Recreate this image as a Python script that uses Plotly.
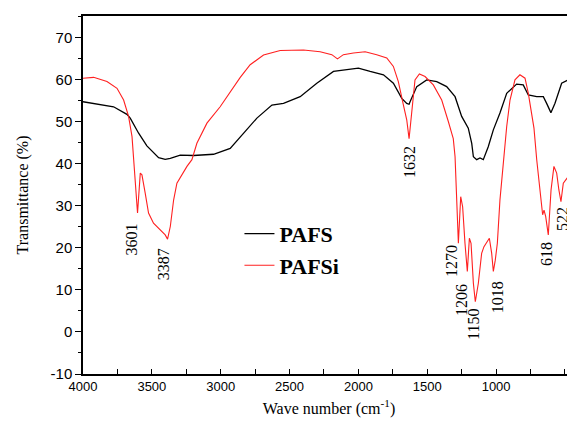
import plotly.graph_objects as go

# PAFS (black)
wn_pafs = [4000, 3778, 3681, 3657, 3596, 3536, 3451, 3403, 3366, 3294, 3197, 3052, 2931, 2835,
           2737, 2628, 2544, 2423, 2302, 2181, 2084, 2000, 1915, 1842, 1818, 1746, 1685, 1649,
           1632, 1625, 1576, 1504, 1431, 1359, 1298, 1250, 1202, 1177, 1165, 1141, 1117, 1093,
           1057, 1020, 972, 923, 851, 803, 766, 705, 657, 633, 602, 573, 524, 476, 428]
t_pafs = [54.8, 53.6, 51.8, 50.9, 47.3, 44.3, 41.5, 41.1, 41.3, 42.1, 42.0, 42.3, 43.7, 47.3,
          50.9, 54.0, 54.4, 56.0, 59.2, 62.0, 62.4, 62.8, 62.0, 61.4, 61.2, 59.2, 55.6, 54.4,
          54.2, 54.8, 58.4, 60.0, 59.6, 58.4, 56.0, 51.3, 48.5, 44.9, 41.7, 41.0, 41.4, 41.0,
          44.1, 48.1, 52.1, 56.8, 59.0, 58.8, 56.4, 56.0, 56.0, 54.4, 52.2, 54.4, 59.2, 60.0, 62.8]

# PAFSi (red)
wn_pafsi = [4000, 3923, 3826, 3753, 3705, 3669, 3644, 3626, 3613, 3604, 3584, 3572, 3548, 3524,
            3488, 3427, 3403, 3386, 3366, 3342, 3318, 3245, 3209, 3173, 3100, 3004, 2931, 2858,
            2786, 2689, 2568, 2399, 2278, 2193, 2152, 2109, 2036, 1951, 1867, 1794, 1746, 1710,
            1673, 1649, 1632, 1613, 1589, 1557, 1516, 1456, 1395, 1347, 1311, 1298, 1286, 1274,
            1257, 1243, 1226, 1209, 1194, 1182, 1165, 1151, 1129, 1105, 1088, 1068, 1049, 1032,
            1020, 1006, 991, 972, 948, 923, 899, 863, 827, 790, 766, 742, 725, 705, 681, 662,
            652, 640, 621, 601, 580, 560, 544, 529, 512, 476, 452, 428]
t_pafsi = [60.4, 60.6, 59.6, 58.0, 55.2, 51.3, 46.5, 38.6, 31.4, 28.3, 37.8, 37.4, 33.0, 28.3,
           25.9, 23.9, 23.1, 22.1, 25.1, 31.4, 35.4, 39.4, 41.0, 44.9, 49.7, 53.6, 57.0, 60.6,
           63.6, 65.9, 67.0, 67.1, 66.7, 66.0, 65.0, 66.0, 66.4, 66.7, 66.0, 65.2, 63.2, 59.6,
           54.0, 50.5, 46.0, 52.9, 60.0, 61.4, 60.8, 58.8, 55.2, 50.1, 46.0, 41.7, 31.4, 21.1,
           32.2, 29.8, 21.1, 14.4, 22.3, 21.1, 11.6, 7.2, 11.6, 18.7, 20.3, 21.5, 22.3, 18.7,
           14.4, 17.1, 21.1, 31.4, 41.0, 48.9, 55.2, 60.0, 61.2, 60.4, 56.8, 51.3, 48.5, 41.0,
           33.8, 27.9, 29.0, 27.5, 23.1, 33.8, 39.4, 37.8, 33.8, 31.0, 35.4, 37.0, 35.4, 29.8]

# Peak labels
peak_labels = ["3601", "3387", "1632", "1270", "1206", "1150", "1018", "618", "522"]
peak_label_x = [3649, 3410, 1624, 1320, 1255, 1160, 993, 630, 514]
peak_label_y = [22.1, 16.2, 40.5, 16.9, 7.6, 1.7, 8.3, 18.6, 26.9]

x_ticks = [4000, 3500, 3000, 2500, 2000, 1500, 1000, 500]
y_ticks = [-10, 0, 10, 20, 30, 40, 50, 60, 70]

fig = go.Figure()
fig.add_trace(go.Scatter(x=wn_pafs, y=t_pafs, mode="lines", name="PAFS",
                         line=dict(color="black", width=1.3)))
fig.add_trace(go.Scatter(x=wn_pafsi, y=t_pafsi, mode="lines", name="PAFSi",
                         line=dict(color="#ff2020", width=1.1)))

for lab, lx, ly in zip(peak_labels, peak_label_x, peak_label_y):
    fig.add_annotation(x=lx, y=ly, xref="x", yref="y", text=lab, showarrow=False,
                       textangle=-90, font=dict(family="Liberation Serif", size=16, color="black"))

# page body has an 8px margin, so the figure is made 8px smaller and margins shifted
fig.update_layout(
    width=567, height=420,
    margin=dict(l=75, r=0, t=8, b=54),
    plot_bgcolor="white", paper_bgcolor="white",
    showlegend=True,
    legend=dict(x=0.318, y=0.45, xanchor="left", yanchor="top",
                font=dict(family="Liberation Serif", size=22, color="black", weight="bold"),
                bgcolor="rgba(0,0,0,0)", tracegroupgap=0),
)
fig.update_xaxes(
    range=[4000, 427], tickvals=x_ticks, ticktext=[str(v) for v in x_ticks],
    ticks="inside", ticklen=5, tickwidth=1, tickcolor="black",
    minor=dict(dtick=250, tick0=0, ticks="inside", ticklen=5, tickcolor="black", showgrid=False),
    showline=True, linecolor="black", linewidth=1.5, mirror=True,
    showgrid=False, zeroline=False, automargin=False,
    tickfont=dict(family="Liberation Sans", size=13, color="black"),
    title=dict(text="Wave number (cm<sup>-1</sup>)", standoff=9,
               font=dict(family="Liberation Serif", size=16, color="black")),
)
fig.update_yaxes(
    range=[-10, 75.2], tickvals=y_ticks, ticktext=[str(v) for v in y_ticks],
    ticks="outside", ticklen=6, tickwidth=1, tickcolor="black",
    minor=dict(dtick=5, tick0=0, ticks="outside", ticklen=3, tickcolor="black", showgrid=False),
    showline=True, linecolor="black", linewidth=1.5, mirror=False,
    showgrid=False, zeroline=False, automargin=False,
    tickfont=dict(family="Liberation Sans", size=15, color="black"),
    title=dict(text="Transmittance (%)", standoff=18,
               font=dict(family="Liberation Serif", size=16, color="black")),
)

fig.write_html("out.html")
